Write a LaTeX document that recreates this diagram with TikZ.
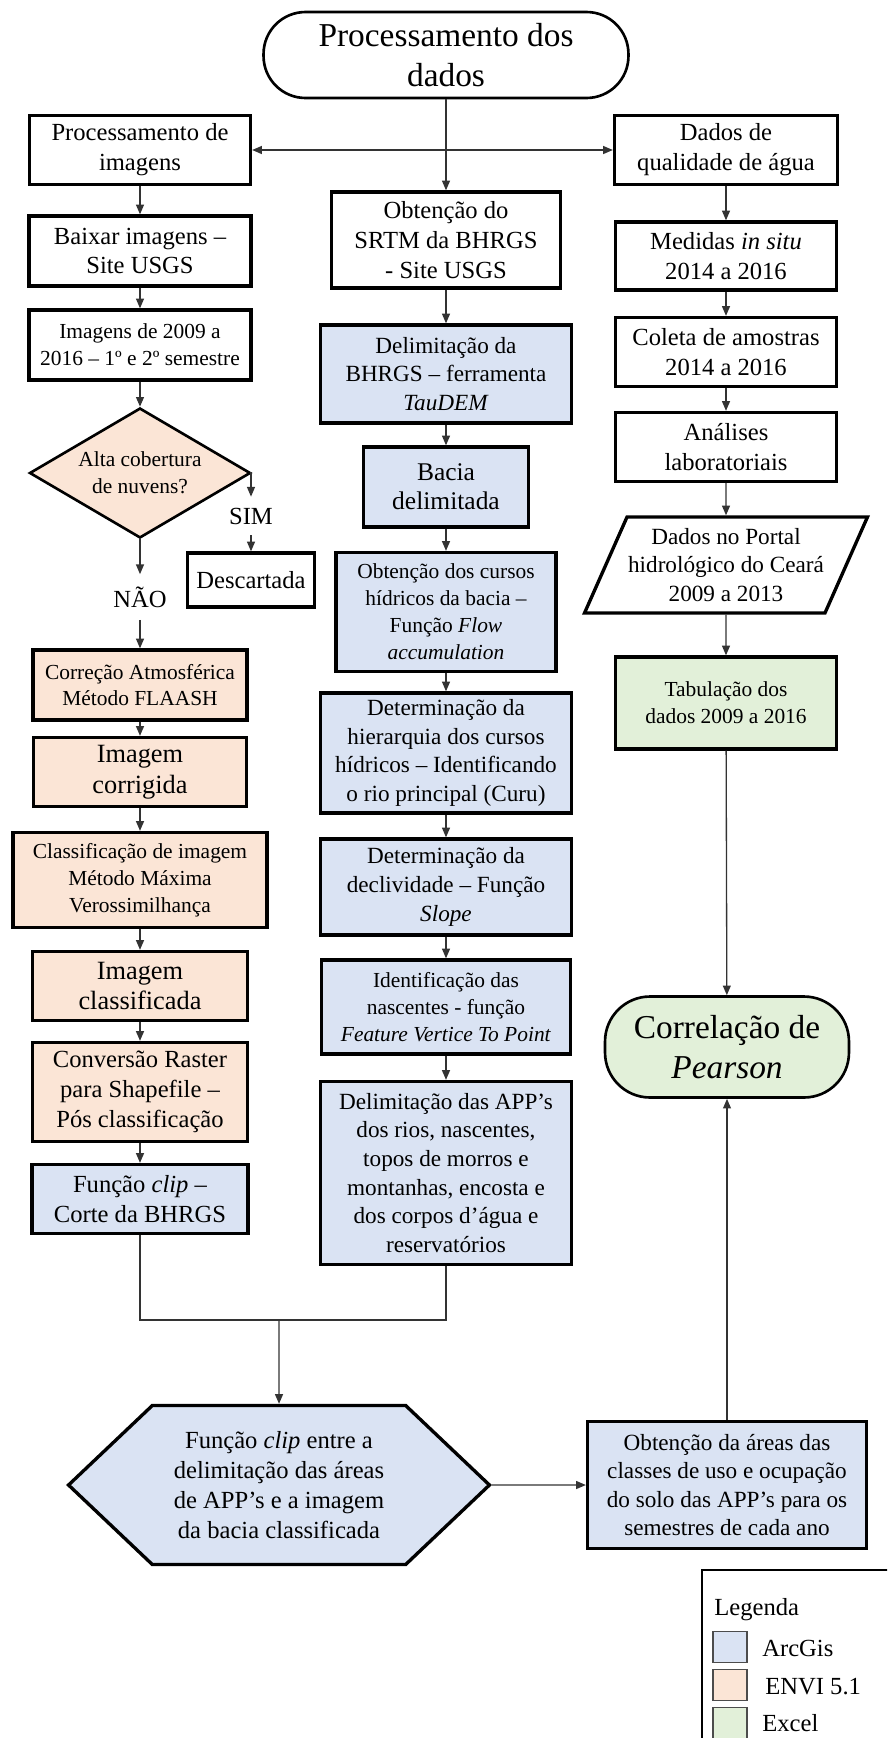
\documentclass[tikz,border=0pt]{standalone}
\usepackage{fontspec}
\setmainfont{Liberation Serif}
\usetikzlibrary{shapes.geometric,shapes.symbols,arrows.meta}

\definecolor{arcblue}{HTML}{DAE3F3}
\definecolor{envipeach}{HTML}{FBE5D6}
\definecolor{excelgreen}{HTML}{E2F0D9}

\tikzstyle{textonly}=[align=center, inner sep=0pt, font=\fontsize{14}{17}\selectfont]
\tikzstyle{box}=[textonly, rectangle, draw=black, line width=1.9pt]
\tikzstyle{term}=[textonly, rectangle, draw=black, line width=1.5pt]
\tikzstyle{arcgis}=[fill=arcblue]
\tikzstyle{envi}=[fill=envipeach]
\tikzstyle{excel}=[fill=excelgreen]
\tikzstyle{txthuge}=[font=\fontsize{19}{22.7}\selectfont]
\tikzstyle{txtmid}=[font=\fontsize{13.2}{16.3}\selectfont]
\tikzstyle{txtsmall}=[font=\fontsize{12.2}{15.3}\selectfont]
\tikzstyle{flowline}=[->, line width=0.75pt, draw=black!80]
\tikzstyle{swatch}=[rectangle, draw=black!70, line width=0.8pt, minimum width=0.68cm, minimum height=0.62cm, inner sep=0pt]

\begin{document}
\begin{tikzpicture}[x=0.02cm, y=-0.02cm, >={Triangle[length=5.5pt,width=4.5pt]}]
  \useasboundingbox (0,0) rectangle (887,1738);
  \clip (0,0) rectangle (887,1738);

  % Nodes
  \node (title) [term, txthuge, minimum width=7.3cm, minimum height=1.72cm, rounded corners=0.84cm] at (446,55) {Processamento dos\\dados};

  % left column: images
  \node (procimg) [box, minimum width=4.42cm, minimum height=1.38cm] at (140,150) {Processamento de\\imagens};
  \node (baixar) [box, minimum width=4.44cm, minimum height=1.40cm] at (140,251) {Baixar imagens –\\Site USGS};
  \node (imagens) [box, txtsmall, minimum width=4.44cm, minimum height=1.40cm] at (140,345) {Imagens de 2009 a\\2016 – 1º e 2º semestre};
  \node (decisao) [textonly, txtsmall, diamond, aspect=1.7, draw=black, line width=1.5pt, envi, minimum width=4.42cm, minimum height=2.6cm] at (140,473) {Alta cobertura\\de nuvens?};
  \node (sim) [textonly, minimum height=0.76cm] at (251,516) {SIM};
  \node (descart) [box, minimum width=2.54cm, minimum height=1.08cm] at (251,580) {Descartada};
  \node (nao) [textonly, minimum height=0.9cm] at (140,597) {NÃO};
  \node (correcao) [box, envi, txtsmall, minimum width=4.28cm, minimum height=1.40cm] at (140,685) {Correção Atmosférica\\Método FLAASH};
  \node (corrigida) [box, envi, font=\fontsize{15}{17.5}\selectfont, minimum width=4.26cm, minimum height=1.38cm] at (140,772) {Imagem\\corrigida};
  \node (classif) [box, envi, txtsmall, minimum width=5.08cm, minimum height=1.90cm] at (140,880) {Classificação de imagem\\Método Máxima\\Verossimilhança};
  \node (classificada) [box, envi, font=\fontsize{15}{17.5}\selectfont, minimum width=4.30cm, minimum height=1.38cm] at (140,986) {Imagem\\classificada};
  \node (conversao) [box, envi, minimum width=4.30cm, minimum height=1.98cm] at (140,1092) {Conversão Raster\\para Shapefile –\\Pós classificação};
  \node (clipbhrgs) [box, arcgis, minimum width=4.32cm, minimum height=1.38cm] at (140,1199) {Função \textit{clip} –\\Corte da BHRGS};

  % centre column: basin
  \node (srtm) [box, minimum width=4.58cm, minimum height=1.92cm] at (446,240) {Obtenção do\\SRTM da BHRGS\\- Site USGS};
  \node (delim) [box, arcgis, txtmid, minimum width=5.02cm, minimum height=1.96cm] at (446,374) {Delimitação da\\BHRGS – ferramenta\\\textit{TauDEM}};
  \node (bacia) [box, arcgis, font=\fontsize{14.5}{16.5}\selectfont, minimum width=3.30cm, minimum height=1.60cm] at (446,487) {Bacia\\delimitada};
  \node (cursos) [box, arcgis, txtsmall, minimum width=4.40cm, minimum height=2.38cm] at (446,612) {Obtenção dos cursos\\hídricos da bacia –\\Função \textit{Flow}\\\textit{accumulation}};
  \node (hierarq) [box, arcgis, txtmid, minimum width=5.02cm, minimum height=2.40cm] at (446,753) {Determinação da\\hierarquia dos cursos\\hídricos – Identificando\\o rio principal (Curu)};
  \node (decliv) [box, arcgis, txtmid, minimum width=5.02cm, minimum height=1.92cm] at (446,887) {Determinação da\\declividade – Função\\\textit{Slope}};
  \node (nasc) [box, arcgis, txtsmall, minimum width=4.98cm, minimum height=1.88cm] at (446,1007) {Identificação das\\nascentes - função\\\textit{Feature Vertice To Point}};
  \node (apps) [box, arcgis, txtmid, minimum width=5.02cm, minimum height=3.66cm] at (446,1173) {Delimitação das APP’s\\dos rios, nascentes,\\topos de morros e\\montanhas, encosta e\\dos corpos d’água e\\reservatórios};

  % right column: water quality
  \node (qualid) [box, minimum width=4.46cm, minimum height=1.38cm] at (726,150) {Dados de\\qualidade de água};
  \node (medidas) [box, minimum width=4.42cm, minimum height=1.36cm] at (726,256) {Medidas \textit{in situ}\\2014 a 2016};
  \node (coleta) [box, minimum width=4.42cm, minimum height=1.38cm] at (726,352) {Coleta de amostras\\2014 a 2016};
  \node (analises) [box, minimum width=4.42cm, minimum height=1.38cm] at (726,447) {Análises\\laboratoriais};
  \node (portal) [box, txtmid, trapezium, trapezium left angle=60, trapezium right angle=120, trapezium stretches body, minimum width=5.66cm, minimum height=1.92cm] at (726,565) {Dados no Portal\\hidrológico do Ceará\\2009 a 2013};
  \node (tabul) [box, excel, txtsmall, minimum width=4.42cm, minimum height=1.84cm] at (726,703) {Tabulação dos\\dados 2009 a 2016};
  \node (correl) [term, excel, txthuge, minimum width=4.88cm, minimum height=2.02cm, rounded corners=0.9cm] at (727,1047) {Correlação de\\\textit{Pearson}};

  % bottom row
  \node (hexa) [textonly, signal, signal to=west and east, signal pointer angle=87, draw=black, line width=1.9pt, arcgis, minimum width=8.42cm, minimum height=3.18cm] at (279,1485) {Função \textit{clip} entre a\\delimitação das áreas\\de APP’s e a imagem\\da bacia classificada};
  \node (areas) [box, arcgis, txtmid, minimum width=5.58cm, minimum height=2.54cm] at (727,1485) {Obtenção da áreas das\\classes de uso e ocupação\\do solo das APP’s para os\\semestres de cada ano};
  \coordinate (merge) at (279,1320);

  % Arrows
  \draw [flowline] (title) -- (srtm);
  \draw [flowline, <->] (procimg) -- (qualid);
  \draw [flowline] (procimg) -- (baixar);
  \draw [flowline] (baixar) -- (imagens);
  \draw [flowline] (imagens) -- (decisao);
  \draw [flowline] (decisao.east) -| (sim);
  \draw [flowline] (sim) -- (descart);
  \draw [flowline] (decisao) -- (nao);
  \draw [flowline] (nao) -- (correcao);
  \draw [flowline] (correcao) -- (corrigida);
  \draw [flowline] (corrigida) -- (classif);
  \draw [flowline] (classif) -- (classificada);
  \draw [flowline] (classificada) -- (conversao);
  \draw [flowline] (conversao) -- (clipbhrgs);
  \draw [flowline] (srtm) -- (delim);
  \draw [flowline] (delim) -- (bacia);
  \draw [flowline] (bacia) -- (cursos);
  \draw [flowline] (cursos) -- (hierarq);
  \draw [flowline] (hierarq) -- (decliv);
  \draw [flowline] (decliv) -- (nasc);
  \draw [flowline] (nasc) -- (apps);
  \draw [flowline] (qualid) -- (medidas);
  \draw [flowline] (medidas) -- (coleta);
  \draw [flowline] (coleta) -- (analises);
  \draw [flowline] (analises) -- (portal);
  \draw [flowline] (portal) -- (tabul);
  \draw [flowline] (tabul) -- (correl);
  \draw [flowline, -] (clipbhrgs) |- (merge) -| (apps);
  \draw [flowline] (merge) -- (hexa);
  \draw [flowline] (hexa) -- (areas);
  \draw [flowline] (areas) -- (correl);

  % Legend
  \draw [line width=1.1pt] (702,1570) rectangle (900,1760);
  \node (legtitle) [textonly, anchor=west] at (714,1610) {Legenda};
  \node (swarc) [swatch, arcgis] at (730,1647) {};
  \node (swenvi) [swatch, envi] at (730,1685) {};
  \node (swexcel) [swatch, excel] at (730,1723) {};
  \node (legarc) [textonly, anchor=west] at (762,1648) {ArcGis};
  \node (legenvi) [textonly, anchor=west] at (765,1687) {ENVI 5.1};
  \node (legexcel) [textonly, anchor=west] at (762,1723) {Excel};
\end{tikzpicture}
\end{document}
